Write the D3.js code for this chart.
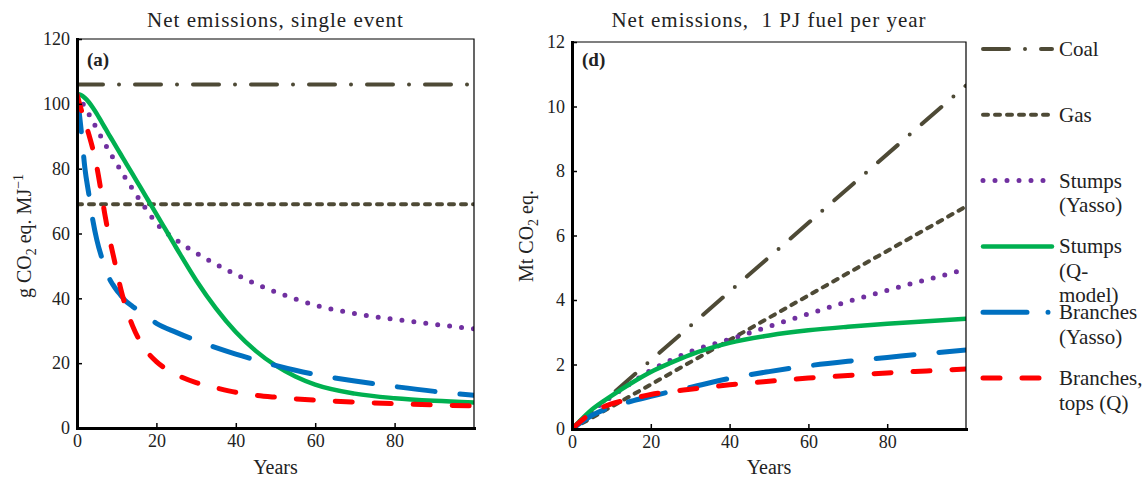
<!DOCTYPE html>
<html>
<head>
<meta charset="utf-8">
<script src="https://cdn.jsdelivr.net/npm/d3@7"></script>
<style>
  body { margin: 0; background: #fff; }
  text { font-family: 'Liberation Serif', 'Times New Roman', serif; fill: #222; }
</style>
</head>
<body>
<svg id="chart" width="1148" height="479"></svg>
<script>
// ---- data ----
const seriesKeys = ['coal', 'gas', 'stumpsYasso', 'stumpsQ', 'branchesYasso', 'branchesQ']
const legendLabels = [
  ['Coal'],
  ['Gas'],
  ['Stumps', '(Yasso)'],
  ['Stumps', '(Q-', 'model)'],
  ['Branches', '(Yasso)'],
  ['Branches,', 'tops (Q)']
]

// (a) net emissions of a single event, g CO2 eq. / MJ
const yearsFossil = [0, 100]
const coalA = [106, 106]
const gasA = [69, 69]
const yearsA = [0, 1, 2, 3, 4, 5, 6, 7, 8, 9, 10, 11, 12, 14, 16, 18, 20, 25, 30, 35, 40, 45, 50, 55, 60, 70, 80, 90, 100]
const stumpsYassoA = [103, 101, 99, 96.8, 94.5, 92.3, 90, 87.8, 85.6, 83.5, 81.5, 79.5, 77.5, 73.7, 70, 66.5, 63.2, 58, 54, 50.5, 47.4, 44.5, 42, 39.8, 37.9, 35.3, 33.5, 32, 30.6]
const stumpsQA = [103, 102.7, 101.8, 100.5, 98.8, 96.9, 94.8, 92.7, 90.6, 88.55, 86.5, 84.45, 82.4, 78.3, 74.2, 70.1, 66, 55.6, 45.6, 36.9, 29.6, 23.8, 19.3, 15.9, 13.4, 10.6, 9.2, 8.4, 7.9]
const branchesYassoA = [103, 92.5, 80, 72, 64, 58, 53.5, 50, 46.5, 44.3, 42.5, 41, 39.5, 37.5, 35.8, 34, 32.3, 29.5, 27, 24.8, 22.8, 21, 19.3, 17.8, 16.5, 14.5, 12.8, 11.3, 10.1]
const branchesQA = [103, 98.5, 94.5, 90.5, 86, 80.5, 73.5, 66, 59.5, 54, 48.5, 43, 38.5, 31.5, 26.5, 23, 20.5, 16.5, 14, 12.4, 11, 10.1, 9.5, 9, 8.6, 8, 7.5, 7.1, 6.8]

// (d) cumulative net emissions, 1 PJ fuel per year, Mt CO2 eq.
const coalD = [0, 10.65]
const gasD = [0, 6.9]
const yearsD = [0, 5, 10, 15, 20, 25, 30, 40, 50, 60, 70, 80, 90, 100]
const stumpsYassoD = [0, 0.55, 1.0, 1.42, 1.82, 2.13, 2.4, 2.78, 3.18, 3.57, 3.95, 4.3, 4.63, 4.95]
const stumpsQD = [0, 0.6, 1.03, 1.42, 1.77, 2.05, 2.3, 2.67, 2.9, 3.06, 3.17, 3.26, 3.34, 3.42]
const branchesYassoD = [0, 0.42, 0.68, 0.86, 1.01, 1.16, 1.29, 1.57, 1.78, 1.96, 2.1, 2.22, 2.34, 2.45]
const branchesQD = [0, 0.5, 0.78, 0.93, 1.07, 1.16, 1.23, 1.37, 1.48, 1.58, 1.66, 1.74, 1.8, 1.86]

const xTicks = [0, 20, 40, 60, 80]
const yTicksA = [0, 20, 40, 60, 80, 100, 120]
const yTicksD = [0, 2, 4, 6, 8, 10, 12]

// ---- styles ----
const styles = {
  coal:          { color: '#4e4a36', width: 4,   dash: '26,16,0,16' },
  gas:           { color: '#4e4a36', width: 4,   dash: '5,7' },
  stumpsYasso:   { color: '#7030a0', width: 5,   dash: '0,12' },
  stumpsQ:       { color: '#00b050', width: 4.5, dash: null },
  branchesYasso: { color: '#0070c0', width: 5,   dash: '38,25' },
  branchesQ:     { color: '#ff0000', width: 5,   dash: '17,22' }
}

const svg = d3.select('#chart')

const drawPanel = cfg => {
  const x = d3.scaleLinear().domain([0, 100]).range([cfg.left, cfg.right])
  const y = d3.scaleLinear().domain([0, cfg.yMax]).range([cfg.bottom, cfg.top])
  const panel = svg.append('g').attr('class', `panel-${cfg.id}`)

  panel.append('clipPath')
    .attr('id', `clip-${cfg.id}`)
    .append('rect')
      .attr('x', cfg.left)
      .attr('y', cfg.top)
      .attr('width', cfg.right - cfg.left)
      .attr('height', cfg.bottom - cfg.top)

  const line = d3.line()
    .x(d => x(d[0]))
    .y(d => y(d[1]))
    .curve(d3.curveMonotoneX)

  panel.append('g')
    .attr('clip-path', `url(#clip-${cfg.id})`)
    .selectAll('path')
    .data(cfg.series)
    .enter()
    .append('path')
      .attr('d', s => line(d3.zip(s.years, s.values)))
      .attr('fill', 'none')
      .attr('stroke', s => styles[s.key].color)
      .attr('stroke-width', s => styles[s.key].width)
      .attr('stroke-dasharray', s => styles[s.key].dash)
      .attr('stroke-linecap', 'round')

  // thin top / right frame
  panel.append('path')
    .attr('d', `M${cfg.left},${cfg.top}H${cfg.right}V${cfg.bottom}`)
    .attr('fill', 'none')
    .attr('stroke', '#000')
    .attr('stroke-width', 1.2)

  const xAxis = panel.append('g')
    .attr('transform', `translate(0, ${cfg.bottom})`)
    .call(d3.axisBottom(x).tickValues(xTicks).tickSizeInner(-5).tickSizeOuter(0).tickPadding(6))
  const yAxis = panel.append('g')
    .attr('transform', `translate(${cfg.left}, 0)`)
    .call(d3.axisLeft(y).tickValues(cfg.yTicks).tickSizeInner(-5).tickSizeOuter(0).tickPadding(7))

  ;[xAxis, yAxis].forEach(a => {
    a.attr('font-family', null)
    a.select('.domain').attr('stroke-width', 3).attr('stroke-linecap', 'square')
    a.selectAll('.tick line').attr('stroke-width', 1.5)
    a.selectAll('.tick text')
      .attr('font-size', 18)
      .attr('fill', '#222')
  })

  // title
  panel.append('text')
    .attr('x', (cfg.left + cfg.right) / 2)
    .attr('y', 27)
    .attr('text-anchor', 'middle')
    .attr('font-size', 21)
    .attr('letter-spacing', 1)
    .style('white-space', 'pre')
    .text(cfg.title)

  // x label
  panel.append('text')
    .attr('x', (cfg.left + cfg.right) / 2)
    .attr('y', 474)
    .attr('text-anchor', 'middle')
    .attr('font-size', 20)
    .text('Years')

  // y label with sub/superscripts
  const yl = panel.append('text')
    .attr('transform', `translate(${cfg.yLabelX}, 236) rotate(-90)`)
    .attr('text-anchor', 'middle')
    .attr('font-size', 20)
  cfg.yLabel.forEach(part => {
    const t = yl.append('tspan').text(part.t)
    if (part.sub) t.attr('font-size', 14).attr('dy', 5)
    if (part.sup) t.attr('font-size', 14).attr('dy', -8)
    if (part.back) t.attr('dy', part.back)
  })

  // panel tag
  panel.append('text')
    .attr('x', cfg.left + 10)
    .attr('y', 66)
    .attr('font-family', "'Liberation Sans', Arial, sans-serif")
    .attr('font-weight', 'bold')
    .attr('font-size', 19)
    .text(cfg.tag)
}

drawPanel({
  id: 'a', left: 77, right: 474, top: 39, bottom: 428, yMax: 120, yTicks: yTicksA,
  title: 'Net emissions, single event', tag: '(a)', yLabelX: 31,
  yLabel: [{ t: 'g CO' }, { t: '2', sub: true }, { t: ' eq. MJ', back: -5 }, { t: '\u22121', sup: true }],
  series: [
    { key: 'coal', years: yearsFossil, values: coalA },
    { key: 'gas', years: yearsFossil, values: gasA },
    { key: 'stumpsYasso', years: yearsA, values: stumpsYassoA },
    { key: 'stumpsQ', years: yearsA, values: stumpsQA },
    { key: 'branchesYasso', years: yearsA, values: branchesYassoA },
    { key: 'branchesQ', years: yearsA, values: branchesQA }
  ]
})

drawPanel({
  id: 'd', left: 572, right: 966, top: 42, bottom: 429, yMax: 12, yTicks: yTicksD,
  title: 'Net emissions,  1 PJ fuel per year', tag: '(d)', yLabelX: 533,
  yLabel: [{ t: 'Mt CO' }, { t: '2', sub: true }, { t: ' eq.', back: -5 }],
  series: [
    { key: 'coal', years: yearsFossil, values: coalD },
    { key: 'gas', years: yearsFossil, values: gasD },
    { key: 'stumpsYasso', years: yearsD, values: stumpsYassoD },
    { key: 'stumpsQ', years: yearsD, values: stumpsQD },
    { key: 'branchesYasso', years: yearsD, values: branchesYassoD },
    { key: 'branchesQ', years: yearsD, values: branchesQD }
  ]
})

// ---- legend ----
const legendY = d3.scaleLinear().domain([0, seriesKeys.length - 1]).range([49, 378])
const legendDash = { branchesYasso: '44,21,0,40' }
const legend = svg.append('g').attr('class', 'legend')
const items = legend.selectAll('g')
  .data(seriesKeys)
  .enter()
  .append('g')
    .attr('transform', (d, i) => `translate(0, ${legendY(i)})`)

items.append('line')
  .attr('x1', 983)
  .attr('x2', 1052)
  .attr('stroke', d => styles[d].color)
  .attr('stroke-width', d => styles[d].width)
  .attr('stroke-dasharray', d => legendDash[d] || styles[d].dash)
  .attr('stroke-linecap', 'round')

items.append('text')
  .attr('font-size', 21)
  .attr('y', 7)
  .each(function (d, i) {
    d3.select(this).selectAll('tspan')
      .data(legendLabels[i])
      .enter()
      .append('tspan')
        .attr('x', 1059)
        .attr('dy', (t, j) => j === 0 ? 0 : 24.5)
        .text(t => t)
  })
</script>
</body>
</html>
